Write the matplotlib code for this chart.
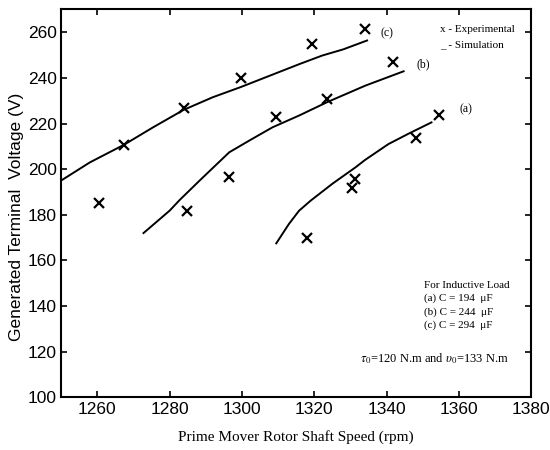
import matplotlib.pyplot as plt

plt.rcParams['mathtext.fontset'] = 'stix'

# measured points (rpm, V)
a_exp_speed = [1318.0, 1330.4, 1331.4, 1348.1, 1354.5]
a_exp_volt = [169.8, 191.8, 195.7, 213.7, 223.9]
b_exp_speed = [1284.9, 1296.5, 1309.5, 1323.6, 1341.7]
b_exp_volt = [181.8, 196.7, 223.0, 230.8, 246.8]
c_exp_speed = [1260.6, 1267.4, 1283.9, 1299.7, 1319.4, 1334.1]
c_exp_volt = [185.3, 210.7, 226.8, 239.8, 254.9, 261.5]

# simulated curves
a_sim_speed = [1309.5, 1313, 1315.8, 1319, 1325, 1331.4, 1334, 1340.5, 1346, 1352.4]
a_sim_volt = [167.5, 176, 181.8, 186.2, 193.6, 200.8, 204, 211, 215.5, 220.5]
b_sim_speed = [1272.8, 1280, 1282.8, 1288.3, 1296.5, 1302, 1308.4, 1315.8, 1323.6, 1334.1, 1344.7]
b_sim_volt = [172, 181.8, 186.5, 195, 207.4, 212.5, 218.3, 223.5, 229.4, 236.6, 242.9]
c_sim_speed = [1250, 1258, 1267.4, 1275.4, 1283.9, 1291.9, 1299.7, 1308.4, 1315.8, 1322.2, 1328, 1334.6]
c_sim_volt = [195, 203, 210.7, 218.3, 226, 231.5, 236, 241.4, 246, 249.8, 252.5, 256.4]

fig = plt.figure(figsize=(5.5, 4.5), dpi=100)
ax = fig.add_axes([0.111, 0.117, 0.855, 0.862])

for sx, sy in [(a_sim_speed, a_sim_volt), (b_sim_speed, b_sim_volt), (c_sim_speed, c_sim_volt)]:
    ax.plot(sx, sy, color='black', lw=1.4)
for ex, ey in [(a_exp_speed, a_exp_volt), (b_exp_speed, b_exp_volt), (c_exp_speed, c_exp_volt)]:
    ax.plot(ex, ey, 'x', color='black', ms=7, mew=1.6)

ax.set_xlim(1250, 1380)
ax.set_ylim(100, 270)
ax.set_xticks(range(1260, 1381, 20))
ax.set_yticks(range(100, 261, 20))
ax.tick_params(direction='in', top=True, right=True, length=4, width=1.2, labelsize=12.5, pad=3)
for lab in ax.get_xticklabels() + ax.get_yticklabels():
    lab.set_family('Liberation Sans')
for sp in ax.spines.values():
    sp.set_linewidth(1.5)

ax.set_xlabel('Prime Mover Rotor Shaft Speed (rpm)', family='Liberation Serif', fontsize=11, labelpad=10)
ax.set_ylabel('Generated Terminal  Voltage (V)', family='Liberation Sans', fontsize=12.5)
ax.yaxis.set_label_coords(-0.078, 0.465)

ax.text(1338.2, 259.7, '(c)', va='center', family='Liberation Serif', fontsize=8.5)
ax.text(1348.3, 246.1, '(b)', va='center', family='Liberation Serif', fontsize=8.5)
ax.text(1360.2, 226.4, '(a)', va='center', family='Liberation Serif', fontsize=8.5)
ax.text(1354.8, 261, 'x - Experimental', va='center', family='Liberation Serif', fontsize=8)
ax.text(1354.8, 254.5, '_ - Simulation', va='center', family='Liberation Serif', fontsize=8)

note = dict(family='Liberation Serif', fontsize=8, va='center')
ax.text(1350.2, 149.2, 'For Inductive Load', **note)
ax.text(1350.2, 143.5, '(a) C = 194  μF', **note)
ax.text(1350.2, 137.5, '(b) C = 244  μF', **note)
ax.text(1350.2, 131.8, '(c) C = 294  μF', **note)
ax.text(1332.7, 116.8, r'$\tau_0$=120 N.m and $\upsilon_0$=133 N.m', family='Liberation Serif',
        fontsize=9, va='center')

fig.savefig('out.png', dpi=100)
